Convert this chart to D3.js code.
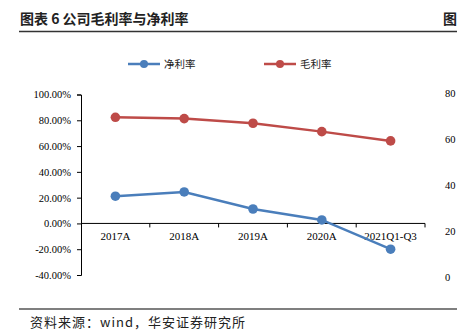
<!DOCTYPE html>
<html><head><meta charset="utf-8">
<script src="https://cdn.jsdelivr.net/npm/d3@7"></script>
<style>body{margin:0;background:#fff}svg{display:block}</style>
</head><body>
<script>
const categories = ["2017A","2018A","2019A","2020A","2021Q1-Q3"];
const netMargin = [21.1, 24.4, 11.2, 2.7, -20.0];
const grossMargin = [82.3, 81.3, 77.7, 71.2, 64.0];
const leftTicks = [-40,-20,0,20,40,60,80,100];
const rightTicks = [0,20,40,60,80];
const seriesNames = ["净利率","毛利率"];
const colors = ["#4a7ebb","#be4b48"];

const W=457,H=336;
const svg=d3.select("body").append("svg").attr("width",W).attr("height",H);
const serif="'Liberation Serif','Times New Roman',serif";
const cjk="'Noto Sans CJK SC',sans-serif";

// title
svg.append("text").attr("x",20).attr("y",24).attr("font-family",cjk).attr("font-weight","bold")
  .attr("font-size",14).attr("fill","#222").text("图表 6  公司毛利率与净利率");
svg.append("text").attr("x",443).attr("y",24).attr("font-family",cjk).attr("font-weight","bold")
  .attr("font-size",14).attr("fill","#222").text("图");
svg.append("line").attr("x1",19).attr("x2",W).attr("y1",31.5).attr("y2",31.5).attr("stroke","#333").attr("stroke-width",1.5);
svg.append("line").attr("x1",19).attr("x2",W).attr("y1",309).attr("y2",309).attr("stroke","#555").attr("stroke-width",1.5);
svg.append("text").attr("x",30).attr("y",327).attr("font-family",cjk).attr("letter-spacing",1)
  .attr("font-size",13).attr("fill","#222").text("资料来源：wind，华安证券研究所");

const x=d3.scaleBand().domain(categories).range([81,425]);
const y=d3.scaleLinear().domain([-40,100]).range([275,94.5]);
const yR=d3.scaleLinear().domain([0,80]).range([277,93]);

// left axis
const gl=svg.append("g").attr("transform","translate(81,0)")
  .call(d3.axisLeft(y).tickValues(leftTicks).tickFormat(d=>d.toFixed(2)+"%").tickSize(4).tickPadding(6));
gl.selectAll("text").attr("font-family",serif).attr("font-size",10.5).attr("fill","#000");
gl.selectAll("line,path").attr("stroke","#000");

// right axis labels (no line)
const gr=svg.append("g").attr("transform","translate(445,0)")
  .call(d3.axisRight(yR).tickValues(rightTicks).tickSize(0).tickPadding(0));
gr.select("path").remove();
gr.selectAll("text").attr("font-family",serif).attr("font-size",10.5).attr("fill","#000");

// x axis at zero
const gx=svg.append("g").attr("transform",`translate(0,${y(0)})`)
  .call(d3.axisBottom(x).tickSize(0).tickPadding(9));
gx.select("path").attr("stroke","#000").attr("d",`M81,0H425`);
gx.selectAll("text").attr("font-family",serif).attr("font-size",11).attr("fill","#000");
// boundary ticks
const bounds=categories.slice(1).map(c=>x(c)).concat([x.range()[1]]);
gx.selectAll(".bt").data(bounds).enter().append("line").attr("x1",d=>d).attr("x2",d=>d)
  .attr("y1",0).attr("y2",4).attr("stroke","#000");

const cx=c=>x(c)+x.bandwidth()/2;
[grossMargin,netMargin].forEach((vals,i)=>{
  const col = i===0?colors[1]:colors[0];
  const data=categories.map((c,j)=>({c,v:vals[j]}));
  svg.append("path").datum(data).attr("fill","none").attr("stroke",col).attr("stroke-width",2.5)
    .attr("d",d3.line().x(d=>cx(d.c)).y(d=>y(d.v)));
  svg.selectAll(null).data(data).enter().append("circle").attr("cx",d=>cx(d.c)).attr("cy",d=>y(d.v))
    .attr("r",4.8).attr("fill",col);
});

// legend
const legend=[{name:seriesNames[0],col:colors[0],x:128},{name:seriesNames[1],col:colors[1],x:264}];
legend.forEach(l=>{
  const g=svg.append("g");
  g.append("line").attr("x1",l.x).attr("x2",l.x+32).attr("y1",64).attr("y2",64).attr("stroke",l.col).attr("stroke-width",2.5);
  g.append("circle").attr("cx",l.x+16).attr("cy",64).attr("r",4).attr("fill",l.col);
  g.append("text").attr("x",l.x+36).attr("y",68).attr("font-family",cjk).attr("font-size",10.5).attr("fill","#222").text(l.name);
});
</script>
</body></html>
